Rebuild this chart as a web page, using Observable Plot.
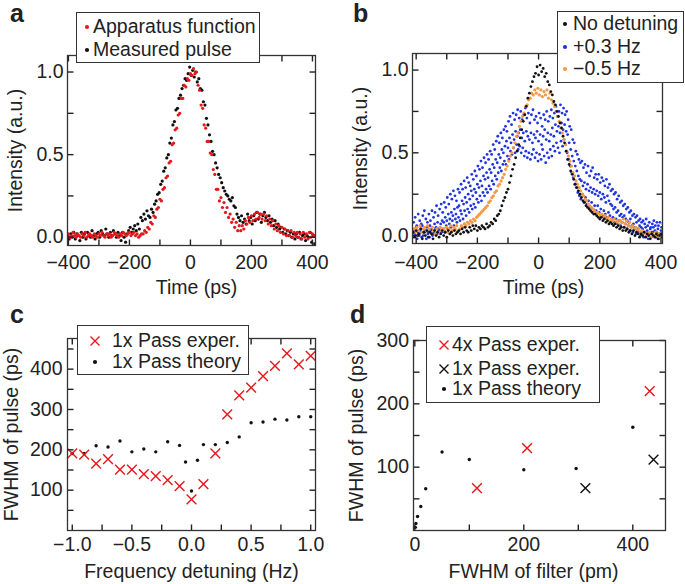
<!DOCTYPE html>
<html><head><meta charset="utf-8">
<script src="https://cdn.jsdelivr.net/npm/d3@7"></script>
<script src="https://cdn.jsdelivr.net/npm/@observablehq/plot@0.6"></script>
<style>
body{margin:0;background:#fff;}
#wrap{position:relative;width:685px;height:584px;overflow:hidden;background:#fff;font-family:"Liberation Sans",Arial,Helvetica,sans-serif;color:#222;}
#wrap svg.p{position:absolute;}
.letter{position:absolute;font-weight:bold;font-size:25px;line-height:1;}
.legend{position:absolute;background:#fff;border:1.5px solid #333;box-sizing:border-box;}
.legend .txt{position:absolute;font-size:19.5px;line-height:1;white-space:nowrap;transform:translateY(-50%);}
.legend svg{position:absolute;overflow:visible;}
</style></head><body><div id="wrap"></div>
<script>
// ---------- Panel a: time traces (start, step in ps; intensities a.u.) ----------
const aRedStart = -405, aRedStep = 5;
const aRed = [
 .01,.02,.00,.01,.03,.01,.00,.02,.01,.00,
 .02,.01,.03,.00,.01,.02,.01,.00,.02,.01,
 .00,.02,.01,.03,.01,.00,.02,.01,.02,.00,
 .01,.03,.02,.01,.00,.02,.01,.03,.02,.01,
 .02,.03,.01,.02,.03,.01,.02,.00,.01,.02,
 .02,.04,.03,.06,.05,.09,.08,.13,.12,.17,
 .18,.23,.22,.29,.30,.36,.37,.45,.46,.56,
 .57,.65,.66,.74,.75,.84,.84,.92,.91,.96,
 .95,.99,.98,1.02,.99,1.00,.92,.89,.80,.78,
 .68,.66,.58,.58,.51,.50,.41,.38,.29,.29,
 .22,.24,.18,.21,.15,.18,.12,.14,.09,.11,
 .06,.09,.04,.07,.04,.07,.05,.10,.08,.12,
 .09,.13,.10,.14,.11,.15,.12,.14,.11,.14,
 .10,.13,.08,.11,.07,.10,.05,.08,.04,.07,
 .03,.06,.02,.05,.01,.04,.01,.04,.00,.03,
 .01,.03,.00,.02,-.01,.03,.00,.02,-.01,.03,
 .00,.02,.01];
const aBlackStart = -402.5, aBlackStep = 5;
const aBlack = [
 .01,-.01,.02,.00,.03,-.01,.02,.01,-.02,.03,
 .00,.02,-.01,.03,.01,.00,.04,.01,-.01,.02,
 .03,.00,.04,.02,.01,.05,.02,.00,.03,.01,
 .04,.02,.00,.03,.01,-.02,.03,.00,-.03,.02,
 .04,.06,.03,.05,.07,.04,.08,.05,.12,.10,
 .14,.11,.16,.13,.12,.17,.15,.20,.22,.26,
 .27,.32,.34,.40,.42,.48,.50,.57,.60,.68,
 .70,.77,.78,.84,.86,.90,.92,.96,.95,.99,
 1.03,.98,1.01,.97,1.00,.94,.96,.90,.89,.82,
 .80,.72,.68,.62,.58,.52,.50,.45,.42,.38,
 .36,.33,.30,.28,.26,.25,.23,.22,.24,.19,
 .18,.14,.12,.10,.13,.09,.11,.08,.14,.10,
 .12,.08,.13,.10,.15,.11,.14,.09,.13,.15,
 .12,.10,.13,.09,.11,.07,.10,.06,.08,.05,
 .06,.03,.05,.02,.04,.01,.03,.00,.02,-.01,
 .02,.00,.03,-.01,.01,.02,-.02,.01,.00,.03,
 -.03,.01,-.04];

// ---------- Panel b: time traces, step 5 ps ----------
const bStep = 5;
const bStart = -410;
const bBlack = [
 .02,-.01,.03,.00,.01,.04,-.02,.02,.00,.03,
 -.01,.02,.01,-.02,.03,.00,.02,-.01,.01,.03,
 .00,.02,-.01,.03,.01,.02,.00,.03,.01,.02,
 .03,.01,.04,.02,.05,.03,.02,.05,.03,.06,
 .04,.06,.03,.05,.04,.06,.05,.04,.07,.05,
 .06,.08,.07,.10,.09,.12,.13,.15,.18,.21,
 .23,.26,.28,.32,.36,.40,.43,.47,.51,.55,
 .59,.64,.69,.73,.78,.83,.86,.90,.93,.96,
 .98,1.02,.97,1.03,.99,1.01,.96,.98,.93,.91,
 .87,.85,.81,.79,.75,.72,.68,.65,.60,.56,
 .51,.46,.43,.39,.37,.34,.31,.29,.27,.25,
 .23,.21,.20,.18,.17,.16,.15,.14,.13,.13,
 .12,.11,.10,.11,.09,.10,.08,.09,.07,.08,
 .07,.06,.07,.05,.06,.04,.05,.03,.05,.03,
 .04,.02,.03,.01,.03,.00,.02,.01,-.01,.01,
 .00,.02,-.01,.01,.00,-.02,.01,.00,-.01,.01,
 -.02,.00,.01,-.01];
const bOrangeStart = -407.5;
const bOrange = [
 .04,.02,.05,.03,.06,.02,.04,.05,.03,.06,
 .04,.02,.05,.03,.01,.04,.02,.05,.03,.04,
 .03,.05,.02,.04,.06,.03,.05,.04,.06,.03,
 .04,.06,.05,.07,.06,.08,.07,.09,.08,.10,
 .09,.11,.12,.13,.14,.15,.16,.17,.18,.20,
 .21,.23,.24,.26,.27,.30,.31,.33,.35,.37,
 .40,.42,.45,.48,.50,.53,.56,.60,.62,.66,
 .69,.72,.74,.78,.79,.82,.83,.86,.85,.88,
 .86,.89,.85,.88,.84,.87,.85,.88,.83,.86,
 .82,.80,.78,.75,.72,.69,.65,.62,.58,.55,
 .51,.48,.45,.42,.38,.36,.33,.31,.29,.27,
 .25,.24,.22,.21,.19,.18,.17,.16,.15,.14,
 .14,.13,.12,.13,.11,.12,.10,.11,.09,.10,
 .09,.10,.08,.09,.07,.09,.08,.10,.07,.09,
 .06,.08,.05,.06,.04,.05,.03,.04,.02,.03,
 .01,.02,.00,.01,.02,-.01,.01,.00,.02,.00,
 .01,-.01,.00,.02];
const bBlueUpperStart = -408.3;
const bBlueUpper = [
 .08,.11,.06,.13,.09,.07,.12,.15,.10,.08,
 .13,.09,.15,.11,.14,.18,.12,.16,.19,.14,
 .20,.17,.23,.19,.25,.22,.27,.24,.21,.28,
 .26,.31,.28,.33,.29,.35,.32,.30,.37,.34,
 .39,.36,.42,.40,.45,.41,.47,.44,.49,.46,
 .51,.49,.55,.52,.57,.60,.56,.62,.59,.64,
 .66,.63,.69,.72,.67,.74,.70,.73,.76,.71,
 .75,.70,.73,.77,.71,.74,.68,.73,.76,.70,
 .72,.68,.74,.71,.66,.73,.70,.75,.69,.72,
 .76,.71,.74,.78,.72,.75,.79,.74,.77,.73,
 .75,.70,.66,.64,.58,.56,.51,.49,.46,.44,
 .45,.41,.43,.38,.42,.36,.39,.41,.35,.37,
 .34,.37,.32,.35,.33,.30,.34,.29,.31,.27,
 .28,.25,.26,.22,.24,.20,.21,.18,.19,.16,
 .17,.14,.15,.12,.13,.11,.12,.09,.10,.08,
 .09,.07,.10,.06,.08,.05,.07,.09,.06,.08,
 .06,.08,.05,.07];
const bBlueMidStart = -410;
const bBlueMid = [
 .03,.01,.05,.02,.00,.04,.06,.02,.03,.05,
 .02,.06,.04,.01,.07,.05,.08,.04,.07,.09,
 .08,.11,.09,.13,.10,.14,.12,.16,.13,.17,
 .18,.15,.21,.19,.23,.20,.25,.22,.27,.24,
 .28,.26,.31,.29,.33,.30,.36,.34,.38,.35,
 .40,.38,.43,.41,.46,.44,.49,.47,.52,.50,
 .54,.57,.53,.59,.56,.61,.58,.63,.60,.62,
 .64,.59,.62,.57,.63,.60,.58,.62,.56,.61,
 .59,.63,.57,.61,.55,.60,.64,.58,.62,.57,
 .61,.65,.60,.67,.63,.66,.62,.68,.64,.67,
 .63,.61,.56,.52,.48,.45,.42,.39,.36,.34,
 .33,.30,.32,.28,.31,.27,.29,.26,.28,.25,
 .27,.24,.26,.22,.25,.23,.20,.24,.21,.19,
 .18,.16,.17,.14,.15,.12,.13,.11,.12,.10,
 .09,.08,.10,.06,.07,.05,.08,.04,.06,.05,
 .04,.02,.05,.03,.01,.04,.02,.05,.03,.02,
 .04,.01,.03,.02];
const bBlueLowerStart = -411.7;
const bBlueLower = [
 -.01,.02,.00,-.02,.01,.03,-.01,.00,.02,-.02,
 .01,-.01,.03,.00,.02,.04,.01,.03,.05,.02,
 .04,.02,.06,.04,.07,.05,.09,.06,.10,.08,
 .11,.09,.13,.10,.15,.12,.16,.14,.18,.16,
 .19,.17,.22,.20,.24,.21,.26,.24,.28,.26,
 .30,.28,.33,.31,.36,.34,.38,.41,.39,.43,
 .45,.43,.48,.46,.51,.49,.53,.50,.55,.52,
 .54,.50,.53,.48,.51,.47,.50,.46,.49,.52,
 .47,.50,.45,.49,.46,.52,.48,.44,.50,.47,
 .52,.48,.54,.51,.56,.53,.50,.57,.54,.58,
 .55,.50,.46,.42,.38,.35,.31,.29,.26,.24,
 .22,.25,.20,.23,.19,.21,.17,.20,.16,.18,
 .15,.18,.14,.16,.12,.15,.13,.11,.14,.12,
 .10,.11,.08,.10,.07,.09,.06,.08,.05,.07,
 .04,.06,.03,.05,.02,.04,.01,.03,.02,.00,
 .01,-.01,.02,.00,-.02,.01,-.01,.02,.00,-.01,
 .01,-.02,.00,-.01];

// ---------- Panel c: FWHM vs detuning ----------
const cDetuning = [-1,-0.9,-0.8,-0.7,-0.6,-0.5,-0.4,-0.3,-0.2,-0.1,0,0.1,0.2,0.3,0.4,0.5,0.6,0.7,0.8,0.9,1.0];
const cExper1x = [191,188,166,177,151,151,140,135,125,110,77,115,191,288,335,354,383,408,439,412,433];
const cTheoryDetuning = [-1,-0.9,-0.8,-0.7,-0.6,-0.5,-0.4,-0.3,-0.2,-0.1,-0.05,0,0.05,0.1,0.2,0.3,0.4,0.5,0.6,0.7,0.8,0.9,1.0];
const cTheory1x = [191,191,210,207,222,195,202,195,220,211,170,98,174,213,213,218,232,267,269,276,274,282,282];

// ---------- Panel d: FWHM of pulse vs FWHM of filter ----------
const dFilter4x = [114,206,431];
const dPulse4x = [67,130,220];
const dFilter1x = [313,438];
const dPulse1x = [67,112];
const dFilterTheory = [1,2,5,11,20,50,100,200,296,400];
const dPulseTheory = [5,11,22,38,66,124,112,96,98,163];

// ---------- Ticks ----------
const abXTicks = [-400,-300,-200,-100,0,100,200,300,400];
const abXLabels = [-400,-200,0,200,400];
const abYTicks = [0,0.25,0.5,0.75,1.0];
const abYLabels = [0,0.5,1.0];
const cXTicks = [-1,-0.75,-0.5,-0.25,0,0.25,0.5,0.75,1];
const cXLabels = [-1,-0.5,0,0.5,1];
const cYTicks = [50,100,150,200,250,300,350,400,450];
const cYLabels = [100,200,300,400];
const dXTicks = [0,100,200,300,400];
const dXLabels = [0,200,400];
const dYTicks = [50,100,150,200,250,300];
const dYLabels = [100,200,300];

const RED = "#e8161b", BLUE = "#1f33e0", ORANGE = "#f49a48", BLACK = "#111", INK = "#222", FRAME = "#333";
const FONT = '"Liberation Sans", Arial, Helvetica, sans-serif';
const TICK = 6; // inward tick length in px
const wrap = document.getElementById("wrap");

const series = (start, step, vals) => vals.map((v, i) => ({t: start + i * step, v}));
const zip = (xs, ys) => xs.map((x, i) => ({x, y: ys[i]}));
const f1 = d3.format(".1f");

function panel(c) {
  const [mt, mr, mb, ml] = c.m;
  const [x0, x1] = c.xDomain, [y0, y1] = c.yDomain;
  // tick length converted from pixels into each scale's data units
  const tx = (x1 - x0) * TICK / (c.width - ml - mr);
  const ty = (y1 - y0) * TICK / (c.height - mt - mb);
  const ts = {stroke: "#222", strokeWidth: 1.4};
  const marks = [
    ...c.marks,
    Plot.link(c.xTicks, {x1: d => d, x2: d => d, y1: () => y0, y2: () => y0 + ty, ...ts}),
    Plot.link(c.xTicks, {x1: d => d, x2: d => d, y1: () => y1, y2: () => y1 - ty, ...ts}),
    Plot.link(c.yTicks, {y1: d => d, y2: d => d, x1: () => x0, x2: () => x0 + tx, ...ts}),
    Plot.link(c.yTicks, {y1: d => d, y2: d => d, x1: () => x1, x2: () => x1 - tx, ...ts}),
    Plot.frame({stroke: FRAME, strokeWidth: 1.3}),
    Plot.axisX({anchor: "bottom", ticks: c.xLabels, tickSize: 0, tickPadding: c.xPad, tickFormat: c.xFmt, label: null, fill: INK}),
    Plot.axisY({anchor: "left", ticks: c.yLabels, tickSize: 0, tickPadding: c.yPad, tickFormat: c.yFmt, label: null, fill: INK}),
    Plot.text([c.xTitle], {text: d => d, frameAnchor: "bottom", dy: c.xTitleDy, dx: c.xTitleDx, textAnchor: "middle", lineAnchor: "top", fill: INK}),
    Plot.text([c.yTitle], {text: d => d, frameAnchor: "left", dx: -c.yTitleOff, rotate: -90, textAnchor: "middle", lineAnchor: "top", fill: INK})
  ];
  const svg = Plot.plot({
    width: c.width, height: c.height,
    marginTop: mt, marginRight: mr, marginBottom: mb, marginLeft: ml,
    x: {domain: c.xDomain}, y: {domain: c.yDomain},
    style: {fontSize: "19.5px", fontFamily: FONT, color: INK, background: "transparent", overflow: "visible"},
    marks
  });
  svg.classList.add("p");
  svg.style.left = c.left + "px";
  svg.style.top = c.top + "px";
  svg.style.maxWidth = "none";
  wrap.appendChild(svg);
}

const dotOpts = (fill, r) => ({x: "t", y: "v", r, fill, stroke: "none", clip: true});

panel({
  left: 0, top: 0, width: 340, height: 300, m: [55, 25, 55, 67],
  xDomain: [-403, 410], yDomain: [-0.05, 1.10],
  xTicks: abXTicks, xLabels: abXLabels, yTicks: abYTicks, yLabels: abYLabels,
  xFmt: d3.format("d"), yFmt: f1, xPad: 10, yPad: 4,
  xTitle: "Time (ps)", xTitleDy: 35, xTitleDx: 5, yTitle: "Intensity (a.u.)", yTitleOff: 59,
  marks: [
    Plot.dot(series(aBlackStart, aBlackStep, aBlack), dotOpts(BLACK, 1.6)),
    Plot.dot(series(aRedStart, aRedStep, aRed), dotOpts(RED, 1.6))
  ]
});

panel({
  left: 340, top: 0, width: 345, height: 300, m: [53, 23, 57, 72],
  xDomain: [-412, 405], yDomain: [-0.048, 1.10],
  xTicks: abXTicks, xLabels: abXLabels, yTicks: abYTicks, yLabels: abYLabels,
  xFmt: d3.format("d"), yFmt: f1, xPad: 12, yPad: 4,
  xTitle: "Time (ps)", xTitleDy: 37, xTitleDx: 6, yTitle: "Intensity (a.u.)", yTitleOff: 59,
  marks: [
    Plot.dot(series(bBlueUpperStart, bStep, bBlueUpper), dotOpts(BLUE, 1.4)),
    Plot.dot(series(bBlueMidStart, bStep, bBlueMid), dotOpts(BLUE, 1.4)),
    Plot.dot(series(bBlueLowerStart, bStep, bBlueLower), dotOpts(BLUE, 1.4)),
    Plot.dot(series(bOrangeStart, bStep, bOrange), dotOpts(ORANGE, 1.6)),
    Plot.dot(series(bStart, bStep, bBlack), dotOpts(BLACK, 1.4))
  ]
});

panel({
  left: 0, top: 300, width: 340, height: 284, m: [38, 25, 54, 67],
  xDomain: [-1.04, 1.04], yDomain: [0, 476],
  xTicks: cXTicks, xLabels: cXLabels, yTicks: cYTicks, yLabels: cYLabels,
  xFmt: f1, yFmt: d3.format("d"), xPad: 7, yPad: 5,
  xTitle: "Frequency detuning (Hz)", xTitleDy: 34, xTitleDx: 0, yTitle: "FWHM of pulse (ps)", yTitleOff: 63,
  marks: [
    Plot.dot(zip(cTheoryDetuning, cTheory1x), {x: "x", y: "y", r: 1.7, fill: BLACK, stroke: "none"}),
    Plot.dot(zip(cDetuning, cExper1x), {x: "x", y: "y", symbol: "times", r: 4.5, stroke: RED, strokeWidth: 1.4})
  ]
});

panel({
  left: 340, top: 300, width: 345, height: 284, m: [40, 20, 54, 73],
  xDomain: [-2.4, 460], yDomain: [0, 300],
  xTicks: dXTicks, xLabels: dXLabels, yTicks: dYTicks, yLabels: dYLabels,
  xFmt: d3.format("d"), yFmt: d3.format("d"), xPad: 7, yPad: 4.5,
  xTitle: "FWHM of filter (pm)", xTitleDy: 34, xTitleDx: -6, yTitle: "FWHM of pulse (ps)", yTitleOff: 64,
  marks: [
    Plot.dot(zip(dFilterTheory, dPulseTheory), {x: "x", y: "y", r: 1.7, fill: BLACK, stroke: "none"}),
    Plot.dot(zip(dFilter1x, dPulse1x), {x: "x", y: "y", symbol: "times", r: 4.5, stroke: BLACK, strokeWidth: 1.4}),
    Plot.dot(zip(dFilter4x, dPulse4x), {x: "x", y: "y", symbol: "times", r: 4.5, stroke: RED, strokeWidth: 1.4})
  ]
});

// ---------- Panel letters ----------
const letters = [["a", 10, 1], ["b", 353, 1], ["c", 10, 302], ["d", 350, 302]];
for (const [t, x, y] of letters) {
  const el = document.createElement("div");
  el.className = "letter"; el.textContent = t;
  el.style.left = x + "px"; el.style.top = y + "px";
  wrap.appendChild(el);
}

// ---------- Legends ----------
const NS = "http://www.w3.org/2000/svg";
function marker(kind, color) {
  const s = document.createElementNS(NS, "svg");
  s.setAttribute("width", 12); s.setAttribute("height", 12);
  if (kind === "dot") {
    const c = document.createElementNS(NS, "circle");
    c.setAttribute("cx", 6); c.setAttribute("cy", 6); c.setAttribute("r", 2.1); c.setAttribute("fill", color);
    s.appendChild(c);
  } else {
    const p = document.createElementNS(NS, "path");
    p.setAttribute("d", "M1.5,1.5L10.5,10.5M10.5,1.5L1.5,10.5");
    p.setAttribute("stroke", color); p.setAttribute("stroke-width", 1.4); p.setAttribute("fill", "none");
    s.appendChild(p);
  }
  return s;
}
function legend(box, rows) {
  const el = document.createElement("div");
  el.className = "legend";
  Object.assign(el.style, {left: box.x + "px", top: box.y + "px", width: box.w + "px", height: box.h + "px"});
  for (const r of rows) {
    const m = marker(r.kind, r.color);
    m.style.left = (box.mx - 6) + "px"; m.style.top = (r.y - 6) + "px";
    el.appendChild(m);
    const t = document.createElement("div");
    t.className = "txt"; t.textContent = r.label;
    t.style.left = box.tx + "px"; t.style.top = r.y + "px";
    el.appendChild(t);
  }
  wrap.appendChild(el);
}
legend({x: 76, y: 12, w: 184, h: 51, mx: 10, tx: 16}, [
  {kind: "dot", color: RED, label: "Apparatus function", y: 14},
  {kind: "dot", color: BLACK, label: "Measured pulse", y: 37}
]);
legend({x: 557, y: 11, w: 127, h: 72, mx: 7, tx: 15}, [
  {kind: "dot", color: BLACK, label: "No detuning", y: 12},
  {kind: "dot", color: BLUE, label: "+0.3 Hz", y: 35},
  {kind: "dot", color: ORANGE, label: "\u22120.5 Hz", y: 57}
]);
legend({x: 77, y: 325, w: 172, h: 50, mx: 17, tx: 34}, [
  {kind: "times", color: RED, label: "1x Pass exper.", y: 15},
  {kind: "dot", color: BLACK, label: "1x Pass theory", y: 36}
]);
legend({x: 426, y: 326, w: 174, h: 77, mx: 17, tx: 25}, [
  {kind: "times", color: RED, label: "4x Pass exper.", y: 18},
  {kind: "times", color: BLACK, label: "1x Pass exper.", y: 42},
  {kind: "dot", color: BLACK, label: "1x Pass theory", y: 62}
]);
</script></body></html>
